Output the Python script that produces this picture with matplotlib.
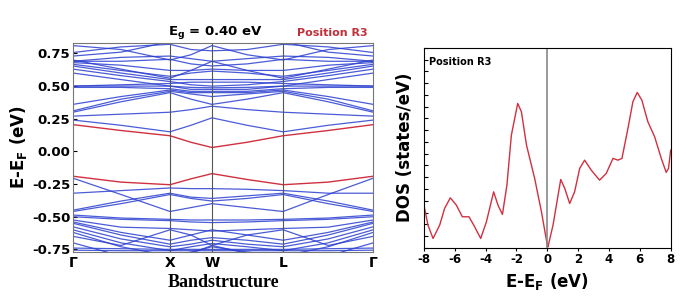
import matplotlib
matplotlib.use("Agg")
import matplotlib.pyplot as plt
import numpy as np

# high-symmetry path (fractional positions along the plotted path)
k_labels = ["Γ", "X", "W", "L", "Γ"]
k_ticks = [0.0, 0.323, 0.463, 0.70, 1.0]
# sample points: Γ, mid, X, mid, W, mid, L, mid, Γ
k_path = [0.0, 0.16, 0.323, 0.393, 0.463, 0.58, 0.70, 0.85, 1.0]

cb_red = [0.205, 0.16, 0.12, 0.07, 0.03, 0.07, 0.12, 0.16, 0.205]
vb_red = [-0.19, -0.235, -0.255, -0.21, -0.17, -0.215, -0.255, -0.235, -0.19]

cond_bands = [
    [0.24, 0.20, 0.15, 0.20, 0.257, 0.20, 0.15, 0.20, 0.24],
    [0.27, 0.285, 0.30, 0.32, 0.346, 0.32, 0.30, 0.285, 0.27],
    [0.30, 0.38, 0.45, 0.40, 0.36, 0.40, 0.45, 0.38, 0.30],
    [0.31, 0.40, 0.46, 0.44, 0.42, 0.44, 0.46, 0.40, 0.31],
    [0.36, 0.42, 0.47, 0.45, 0.45, 0.45, 0.47, 0.42, 0.36],
    [0.49, 0.49, 0.48, 0.46, 0.46, 0.46, 0.48, 0.49, 0.49],
    [0.50, 0.50, 0.50, 0.475, 0.475, 0.475, 0.50, 0.50, 0.50],
    [0.50, 0.51, 0.52, 0.53, 0.53, 0.53, 0.52, 0.51, 0.50],
    [0.60, 0.55, 0.50, 0.49, 0.487, 0.49, 0.50, 0.55, 0.60],
    [0.63, 0.58, 0.535, 0.51, 0.50, 0.51, 0.535, 0.58, 0.63],
    [0.654, 0.60, 0.55, 0.55, 0.55, 0.55, 0.55, 0.60, 0.654],
    [0.667, 0.62, 0.575, 0.60, 0.615, 0.60, 0.575, 0.62, 0.667],
    [0.68, 0.66, 0.62, 0.62, 0.63, 0.62, 0.62, 0.66, 0.68],
    [0.69, 0.69, 0.705, 0.67, 0.654, 0.67, 0.705, 0.69, 0.69],
    [0.69, 0.72, 0.73, 0.71, 0.69, 0.71, 0.73, 0.72, 0.69],
    [0.70, 0.63, 0.56, 0.62, 0.69, 0.62, 0.56, 0.63, 0.70],
    [0.73, 0.76, 0.84, 0.88, 0.90, 0.88, 0.84, 0.76, 0.73],
    [0.757, 0.80, 0.82, 0.78, 0.77, 0.78, 0.82, 0.80, 0.757],
    [0.81, 0.78, 0.70, 0.74, 0.81, 0.74, 0.70, 0.78, 0.81],
]

val_bands = [
    [-0.205, -0.33, -0.46, -0.43, -0.40, -0.43, -0.46, -0.33, -0.205],
    [-0.32, -0.30, -0.28, -0.285, -0.285, -0.29, -0.30, -0.32, -0.32],
    [-0.45, -0.38, -0.32, -0.35, -0.36, -0.34, -0.32, -0.38, -0.45],
    [-0.46, -0.40, -0.33, -0.36, -0.38, -0.36, -0.33, -0.40, -0.46],
    [-0.487, -0.51, -0.52, -0.525, -0.525, -0.525, -0.52, -0.51, -0.487],
    [-0.50, -0.52, -0.53, -0.54, -0.545, -0.54, -0.53, -0.52, -0.50],
    [-0.525, -0.58, -0.59, -0.60, -0.61, -0.60, -0.59, -0.58, -0.525],
    [-0.54, -0.62, -0.68, -0.64, -0.60, -0.64, -0.68, -0.62, -0.54],
    [-0.55, -0.64, -0.71, -0.68, -0.66, -0.68, -0.71, -0.64, -0.55],
    [-0.577, -0.67, -0.73, -0.71, -0.68, -0.71, -0.73, -0.67, -0.577],
    [-0.60, -0.70, -0.76, -0.73, -0.705, -0.73, -0.76, -0.70, -0.60],
    [-0.62, -0.73, -0.80, -0.77, -0.73, -0.77, -0.80, -0.73, -0.62],
    [-0.65, -0.72, -0.60, -0.64, -0.72, -0.64, -0.60, -0.72, -0.65],
    [-0.70, -0.80, -0.85, -0.78, -0.72, -0.78, -0.85, -0.80, -0.70],
    [-0.74, -0.745, -0.75, -0.75, -0.75, -0.75, -0.75, -0.745, -0.74],
    [-0.756, -0.76, -0.76, -0.76, -0.76, -0.76, -0.76, -0.76, -0.756],
]

# DOS curve
dos_e = [-8.0, -7.74, -7.41, -6.98, -6.66, -6.29, -5.90, -5.51, -5.08, -4.77,
         -4.32, -3.95, -3.48, -3.20, -2.91, -2.62, -2.33, -1.92, -1.68, -1.35,
         -0.82, -0.38, 0.0, 0.04, 0.37, 0.87, 1.13, 1.45, 1.77, 2.10, 2.42,
         2.85, 3.39, 3.82, 4.26, 4.58, 4.84, 5.23, 5.55, 5.83, 6.13, 6.52,
         6.96, 7.39, 7.71, 7.86, 8.0]
dos_v = [3.63, 1.93, 0.80, 1.93, 3.35, 4.25, 3.63, 2.64, 2.64, 1.93,
         0.80, 2.21, 4.76, 3.63, 2.84, 5.33, 9.58, 12.27, 11.56, 8.73,
         5.90, 3.06, 0.23, 0.08, 1.93, 5.81, 5.05, 3.77, 4.76, 6.75, 7.45,
         6.60, 5.75, 6.32, 7.60, 7.45, 7.60, 10.15, 12.41, 13.2, 12.55, 10.71,
         9.44, 7.60, 6.41, 6.75, 8.30]

blue = "#2b3fd0"
red = "#d03040"

fig = plt.figure(figsize=(6.95, 3.06), dpi=100)

# ---- band structure ----
ax1 = fig.add_axes([0.105, 0.1765, 0.432, 0.683])
for b in cond_bands + val_bands:
    ax1.plot(k_path, b, color=blue, lw=0.9, alpha=0.85)
ax1.plot(k_path, cb_red, color=red, lw=1.0)
ax1.plot(k_path, vb_red, color=red, lw=1.0)
for kt in k_ticks[1:-1]:
    ax1.axvline(kt, color="#555555", lw=0.8)

ax1.set_xlim(0, 1)
ax1.set_ylim(-0.77, 0.83)
ax1.set_xticks(k_ticks)
ax1.set_xticklabels(k_labels, fontsize=10, fontweight="bold")
ax1.set_yticks([-0.75, -0.5, -0.25, 0.0, 0.25, 0.5, 0.75])
ax1.set_yticklabels(["-0.75", "-0.50", "-0.25", "0.00", "0.25", "0.50", "0.75"],
                    fontsize=9.5, fontweight="bold")
ax1.tick_params(axis="x", direction="in", length=0, pad=3)
ax1.tick_params(axis="y", direction="in", length=3, pad=2)
ax1.set_ylabel("E-E$_\\mathbf{F}$ (eV)", fontsize=12, fontweight="bold", labelpad=2)
ax1.set_xlabel("Bandstructure", fontsize=13, fontweight="bold",
               family="Liberation Serif", labelpad=3)
for s in ax1.spines.values():
    s.set_color("#777777")
    s.set_linewidth(0.8)

fig.text(0.31, 0.895, "E$_\\mathbf{g}$ = 0.40 eV", fontsize=9.5, fontweight="bold",
         ha="center", va="center")
fig.text(0.478, 0.893, "Position R3", fontsize=8, fontweight="bold",
         color="#c0303a", ha="center", va="center")

# ---- DOS ----
ax2 = fig.add_axes([0.610, 0.19, 0.355, 0.654])
ax2.plot(dos_e, dos_v, color=red, lw=1.0)
ax2.axvline(0.0, color="#888888", lw=1.2)
ax2.set_xlim(-8, 8)
ax2.set_ylim(0, 17)
ax2.set_xticks(np.arange(-8, 9, 2))
ax2.set_xticklabels([str(v) for v in range(-8, 9, 2)], fontsize=8.5, fontweight="bold")
ax2.set_yticks(np.arange(0, 18, 1))
ax2.set_yticklabels([])
ax2.tick_params(axis="y", direction="in", length=3)
ax2.tick_params(axis="x", direction="out", length=2, pad=2)
ax2.set_ylabel("DOS (states/eV)", fontsize=12, fontweight="bold", labelpad=4)
ax2.set_xlabel("E-E$_\\mathbf{F}$ (eV)", fontsize=12, fontweight="bold", labelpad=3)
ax2.text(0.02, 0.955, "Position R3", transform=ax2.transAxes, fontsize=7,
         fontweight="bold", ha="left", va="top")
for s in ax2.spines.values():
    s.set_linewidth(0.8)

fig.savefig("out.png", dpi=100)
